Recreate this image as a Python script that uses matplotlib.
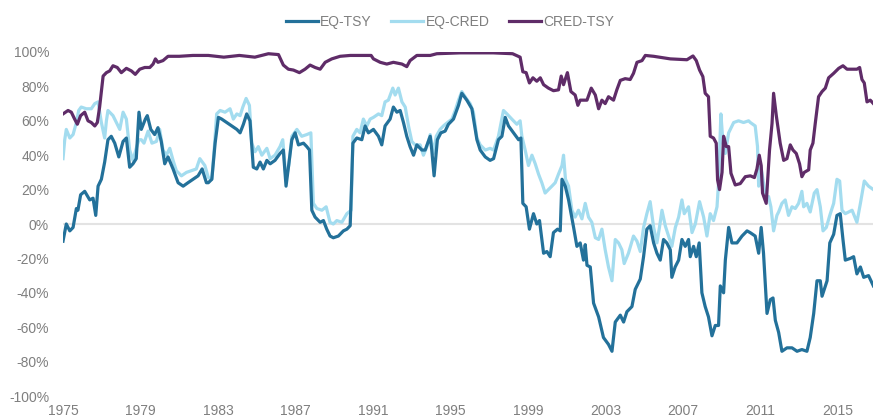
import matplotlib
matplotlib.use("Agg")
import matplotlib.pyplot as plt
from matplotlib.ticker import FuncFormatter

plt.rcParams['font.family'] = ['Liberation Sans', 'DejaVu Sans']

# rolling correlations (decimal year, percent)
eq_tsy_years = [1975.00, 1975.17, 1975.35, 1975.52, 1975.69, 1975.77, 1975.91, 1976.12, 1976.38, 1976.55,
                1976.69, 1976.81, 1976.98, 1977.15, 1977.32, 1977.49, 1977.67, 1977.88, 1978.10, 1978.27,
                1978.44, 1978.61, 1978.78, 1978.92, 1979.04, 1979.25, 1979.35, 1979.53, 1979.73, 1979.90,
                1980.07, 1980.25, 1980.42, 1980.68, 1980.94, 1981.20, 1981.45, 1981.71, 1981.97, 1982.18,
                1982.40, 1982.50, 1982.68, 1982.85, 1983.02, 1983.19, 1983.45, 1983.71, 1983.97, 1984.14,
                1984.31, 1984.48, 1984.65, 1984.82, 1985.00, 1985.17, 1985.34, 1985.52, 1985.69, 1985.94,
                1986.20, 1986.37, 1986.51, 1986.63, 1986.81, 1986.98, 1987.15, 1987.41, 1987.58, 1987.72,
                1987.84, 1988.01, 1988.27, 1988.44, 1988.61, 1988.78, 1988.95, 1989.21, 1989.47, 1989.65,
                1989.82, 1989.96, 1990.16, 1990.42, 1990.59, 1990.76, 1991.02, 1991.28, 1991.45, 1991.62,
                1991.88, 1992.05, 1992.23, 1992.40, 1992.57, 1992.74, 1992.91, 1993.09, 1993.26, 1993.52,
                1993.69, 1993.95, 1994.03, 1994.15, 1994.32, 1994.50, 1994.72, 1994.89, 1995.15, 1995.41,
                1995.58, 1995.84, 1996.10, 1996.36, 1996.53, 1996.79, 1997.04, 1997.22, 1997.47, 1997.65,
                1997.82, 1997.99, 1998.25, 1998.51, 1998.63, 1998.73, 1998.90, 1999.07, 1999.28, 1999.45,
                1999.59, 1999.80, 1999.97, 2000.14, 2000.31, 2000.52, 2000.66, 2000.75, 2000.92, 2001.09,
                2001.35, 2001.52, 2001.69, 2001.86, 2001.95, 2002.04, 2002.21, 2002.38, 2002.64, 2002.89,
                2003.15, 2003.33, 2003.50, 2003.76, 2003.93, 2004.10, 2004.36, 2004.53, 2004.79, 2004.96,
                2005.13, 2005.30, 2005.48, 2005.65, 2005.82, 2005.99, 2006.16, 2006.34, 2006.42, 2006.59,
                2006.77, 2006.94, 2007.11, 2007.28, 2007.37, 2007.54, 2007.68, 2007.83, 2007.97, 2008.14,
                2008.31, 2008.49, 2008.66, 2008.83, 2008.92, 2009.09, 2009.18, 2009.35, 2009.52, 2009.78,
                2010.04, 2010.30, 2010.46, 2010.72, 2010.90, 2011.03, 2011.15, 2011.33, 2011.50, 2011.64,
                2011.76, 2011.93, 2012.10, 2012.36, 2012.62, 2012.88, 2013.13, 2013.39, 2013.56, 2013.74,
                2013.91, 2014.08, 2014.17, 2014.43, 2014.57, 2014.77, 2014.94, 2015.11, 2015.25, 2015.37,
                2015.63, 2015.80, 2015.97, 2016.15, 2016.32, 2016.57, 2016.82]
eq_tsy = [-10, 0, -4, -2, 9, 8, 17, 19, 14, 15,
          5, 22, 26, 36, 49, 51, 47, 39, 48, 50,
          33, 35, 38, 65, 55, 61, 63, 55, 52, 56,
          48, 35, 39, 32, 24, 22, 24, 26, 28, 32,
          24, 24, 26, 47, 62, 61, 59, 57, 55, 53,
          58, 64, 60, 33, 32, 36, 32, 37, 35, 37,
          41, 43, 22, 33, 49, 53, 46, 47, 45, 43,
          8, 4, 1, 2, -3, -7, -8, -7, -4, -3,
          -1, 47, 50, 49, 57, 53, 55, 51, 46, 57,
          61, 68, 65, 66, 59, 51, 45, 40, 46, 43,
          43, 51, 43, 28, 49, 53, 54, 58, 61, 69,
          76, 72, 67, 49, 43, 39, 37, 38, 49, 51,
          62, 57, 53, 49, 50, 12, 10, -3, 6, 0,
          2, -17, -16, -19, -5, -3, -4, 26, 22, 14,
          -2, -13, -11, -21, -12, -24, -25, -46, -54, -66,
          -70, -74, -57, -53, -57, -51, -48, -38, -32, -19,
          -3, -1, -11, -17, -21, -9, -11, -15, -31, -25,
          -21, -9, -13, -9, -19, -13, -19, -11, -40, -48,
          -54, -65, -59, -59, -36, -40, -21, -2, -11, -11,
          -7, -4, -5, -7, -17, -2, -17, -52, -44, -43,
          -56, -63, -74, -72, -72, -74, -73, -74, -66, -52,
          -33, -33, -42, -33, -11, -6, 5, 6, -9, -21,
          -20, -19, -29, -25, -31, -30, -36]

eq_cred_years = [1975.00, 1975.09, 1975.17, 1975.35, 1975.52, 1975.69, 1975.81, 1975.94, 1976.20, 1976.46,
                 1976.64, 1976.81, 1976.98, 1977.15, 1977.24, 1977.32, 1977.58, 1977.80, 1977.93, 1978.10,
                 1978.27, 1978.44, 1978.61, 1978.78, 1978.92, 1979.04, 1979.18, 1979.39, 1979.59, 1979.82,
                 1979.99, 1980.16, 1980.33, 1980.51, 1980.68, 1980.85, 1981.11, 1981.37, 1981.62, 1981.88,
                 1982.06, 1982.32, 1982.50, 1982.68, 1982.80, 1982.93, 1983.11, 1983.36, 1983.62, 1983.79,
                 1983.97, 1984.14, 1984.28, 1984.45, 1984.62, 1984.74, 1984.91, 1985.08, 1985.26, 1985.52,
                 1985.69, 1985.94, 1986.20, 1986.34, 1986.51, 1986.65, 1986.81, 1987.07, 1987.32, 1987.58,
                 1987.79, 1987.92, 1988.10, 1988.36, 1988.58, 1988.78, 1988.95, 1989.13, 1989.39, 1989.65,
                 1989.87, 1989.96, 1990.16, 1990.33, 1990.50, 1990.68, 1990.85, 1991.02, 1991.28, 1991.45,
                 1991.62, 1991.79, 1992.02, 1992.14, 1992.31, 1992.49, 1992.66, 1992.83, 1993.00, 1993.17,
                 1993.43, 1993.60, 1993.78, 1993.95, 1994.12, 1994.26, 1994.46, 1994.63, 1994.84, 1995.07,
                 1995.24, 1995.41, 1995.58, 1995.81, 1996.01, 1996.18, 1996.36, 1996.53, 1996.79, 1997.04,
                 1997.22, 1997.47, 1997.73, 1997.91, 1998.16, 1998.42, 1998.59, 1998.68, 1998.85, 1999.02,
                 1999.20, 1999.37, 1999.54, 1999.71, 1999.88, 2000.05, 2000.23, 2000.40, 2000.57, 2000.75,
                 2000.83, 2000.93, 2001.09, 2001.26, 2001.43, 2001.60, 2001.78, 2001.95, 2002.12, 2002.29,
                 2002.47, 2002.64, 2002.81, 2002.98, 2003.15, 2003.33, 2003.50, 2003.67, 2003.84, 2003.96,
                 2004.18, 2004.44, 2004.62, 2004.79, 2004.96, 2005.13, 2005.30, 2005.48, 2005.65, 2005.78,
                 2005.91, 2006.08, 2006.25, 2006.42, 2006.60, 2006.77, 2006.94, 2007.06, 2007.28, 2007.46,
                 2007.63, 2007.85, 2008.06, 2008.23, 2008.40, 2008.57, 2008.75, 2008.83, 2008.95, 2009.06,
                 2009.18, 2009.35, 2009.61, 2009.86, 2010.12, 2010.38, 2010.47, 2010.72, 2010.84, 2010.90,
                 2011.02, 2011.12, 2011.24, 2011.41, 2011.53, 2011.67, 2011.84, 2011.93, 2012.10, 2012.27,
                 2012.44, 2012.62, 2012.79, 2012.96, 2013.13, 2013.22, 2013.39, 2013.56, 2013.77, 2013.91,
                 2014.08, 2014.22, 2014.39, 2014.57, 2014.77, 2014.94, 2015.08, 2015.20, 2015.37, 2015.54,
                 2015.72, 2015.97, 2016.15, 2016.35, 2016.57, 2016.82]
eq_cred = [38, 49, 55, 50, 52, 59, 66, 68, 67, 67,
           70, 71, 59, 50, 60, 66, 63, 58, 55, 65,
           61, 43, 37, 44, 49, 49, 47, 54, 47, 48,
           55, 43, 40, 44, 37, 31, 28, 30, 31, 32,
           38, 34, 27, 26, 43, 64, 66, 65, 67, 61,
           64, 63, 68, 73, 69, 47, 42, 45, 40, 44,
           38, 40, 45, 49, 26, 34, 51, 55, 51, 52,
           53, 12, 9, 8, 10, 1, 0, 2, 1, 6,
           8, 51, 55, 53, 61, 57, 61, 62, 64, 63,
           71, 72, 79, 75, 79, 71, 68, 57, 48, 46,
           46, 40, 45, 52, 41, 51, 55, 57, 59, 61,
           66, 72, 77, 73, 70, 65, 50, 46, 43, 44,
           43, 51, 66, 64, 61, 58, 60, 51, 43, 34,
           40, 35, 29, 24, 18, 20, 22, 24, 29, 34,
           40, 26, 22, 8, 4, 8, 3, 12, 4, 1,
           -8, -9, -3, -15, -25, -33, -9, -11, -15, -23,
           -17, -7, -10, -16, -2, 6, 13, -2, -11, -2,
           8, -1, -7, -13, -2, 4, 14, 6, 10, -5,
           0, 13, 4, -7, 6, 2, 10, 24, 64, 47,
           41, 53, 59, 60, 59, 60, 59, 57, 45, 22,
           33, 26, 16, 16, 10, -4, 5, 7, 12, 14,
           5, 10, 9, 12, 19, 10, 12, 7, 18, 20,
           10, -4, -2, 5, 12, 26, 25, 8, 6, 7,
           8, 1, 12, 25, 22, 20]

cred_tsy_years = [1975.00, 1975.26, 1975.43, 1975.60, 1975.74, 1975.91, 1976.12, 1976.29, 1976.46, 1976.64,
                  1976.77, 1976.89, 1977.07, 1977.24, 1977.41, 1977.58, 1977.80, 1978.01, 1978.27, 1978.53,
                  1978.73, 1978.96, 1979.22, 1979.48, 1979.65, 1979.77, 1979.90, 1980.16, 1980.42, 1981.00,
                  1981.70, 1982.50, 1983.30, 1984.10, 1984.90, 1985.60, 1986.12, 1986.37, 1986.63, 1986.89,
                  1987.20, 1987.49, 1987.75, 1988.01, 1988.27, 1988.53, 1988.87, 1989.30, 1989.82, 1990.20,
                  1990.90, 1991.02, 1991.37, 1991.71, 1992.05, 1992.49, 1992.74, 1992.91, 1993.26, 1993.95,
                  1994.29, 1995.50, 1997.20, 1998.20, 1998.59, 1998.73, 1998.90, 1999.07, 1999.25, 1999.45,
                  1999.63, 1999.80, 2000.05, 2000.31, 2000.57, 2000.71, 2000.83, 2001.03, 2001.21, 2001.43,
                  2001.57, 2001.69, 2001.86, 2002.04, 2002.26, 2002.47, 2002.64, 2002.81, 2002.98, 2003.15,
                  2003.41, 2003.58, 2003.76, 2004.01, 2004.27, 2004.44, 2004.62, 2004.88, 2005.05, 2005.48,
                  2006.34, 2007.20, 2007.51, 2007.68, 2007.85, 2008.02, 2008.14, 2008.31, 2008.40, 2008.57,
                  2008.71, 2008.78, 2008.88, 2009.01, 2009.09, 2009.23, 2009.35, 2009.47, 2009.69, 2009.95,
                  2010.21, 2010.47, 2010.68, 2010.81, 2010.93, 2011.03, 2011.10, 2011.29, 2011.46, 2011.59,
                  2011.67, 2011.81, 2012.01, 2012.19, 2012.36, 2012.53, 2012.67, 2012.84, 2013.01, 2013.13,
                  2013.25, 2013.48, 2013.56, 2013.70, 2013.82, 2013.99, 2014.17, 2014.34, 2014.51, 2014.77,
                  2015.03, 2015.25, 2015.46, 2015.72, 2015.97, 2016.11, 2016.23, 2016.35, 2016.49, 2016.66,
                  2016.82]
cred_tsy = [64, 66, 65, 61, 58, 63, 65, 60, 59, 57,
            59, 68, 86, 88, 89, 92, 91, 88, 90.5, 89,
            87, 90, 91, 91, 93, 96, 94, 95, 97.5, 97.5,
            98, 98, 97, 98, 97, 99, 98.5, 92.4, 90, 89.5,
            88, 90, 92.4, 91, 90, 94, 96, 97.5, 98, 98,
            98, 96, 94, 93, 94, 93, 91.5, 95, 98, 98,
            99, 99.5, 99.5, 99, 97, 88.5, 88, 82, 85, 83,
            85, 81, 79, 77.5, 78, 86, 81, 88, 77, 75,
            69, 72, 72, 72, 79, 75, 67, 72, 70, 74,
            72, 78, 83.5, 84.5, 84, 87.6, 94, 95, 98, 97.5,
            96, 95.5, 97.7, 95, 89.5, 85.7, 76, 74, 51, 50,
            47, 25.6, 20, 30, 51, 45, 45, 29.5, 22.7, 23.5,
            27.5, 28, 27, 32, 40, 34, 18, 12, 43, 58.5,
            76, 63, 47, 37, 38, 46, 43, 41, 35, 27.5,
            30, 31.5, 43, 47, 58.5, 74, 77, 79, 85, 87.6,
            90.5, 92, 90, 90, 90, 91, 84, 82, 71, 72,
            70]

labels = ['EQ-TSY', 'EQ-CRED', 'CRED-TSY']
colors = ['#23719a', '#a3dcef', '#5f2c68']
year_ticks = list(range(1975, 2016, 4))
pct_ticks = list(range(-100, 101, 20))

fig = plt.figure(figsize=(8.73, 4.19), dpi=100)
ax = fig.add_axes([63 / 873, 1 - 396 / 419, 810 / 873, 344 / 419])

ax.plot(eq_cred_years, eq_cred, color=colors[1], lw=2.3, label=labels[1], zorder=2)
ax.plot(eq_tsy_years, eq_tsy, color=colors[0], lw=2.3, label=labels[0], zorder=3)
ax.plot(cred_tsy_years, cred_tsy, color=colors[2], lw=2.3, label=labels[2], zorder=4)
ax.axhline(0, color='#e3e3e3', lw=1.5, zorder=1)

ax.set_xlim(1975, 2016.8)
ax.set_ylim(-100, 100)
ax.set_xticks(year_ticks)
ax.set_yticks(pct_ticks)
ax.yaxis.set_major_formatter(FuncFormatter(lambda v, p: '%d%%' % v))
ax.tick_params(length=0, colors='#7f7f7f', labelsize=10)
ax.tick_params(axis='y', pad=10)
ax.tick_params(axis='x', pad=6)
for s in ax.spines.values():
    s.set_visible(False)

h, l = ax.get_legend_handles_labels()
order = [1, 0, 2]
leg = fig.legend([h[i] for i in order], [l[i] for i in order], loc='center',
                 bbox_to_anchor=(450 / 873, 1 - 22 / 419), ncol=3, frameon=False,
                 fontsize=10, handlelength=2.3, handletextpad=0.15, columnspacing=1.4)
for t in leg.get_texts():
    t.set_color('#7f7f7f')

fig.savefig('out.png', dpi=100)
